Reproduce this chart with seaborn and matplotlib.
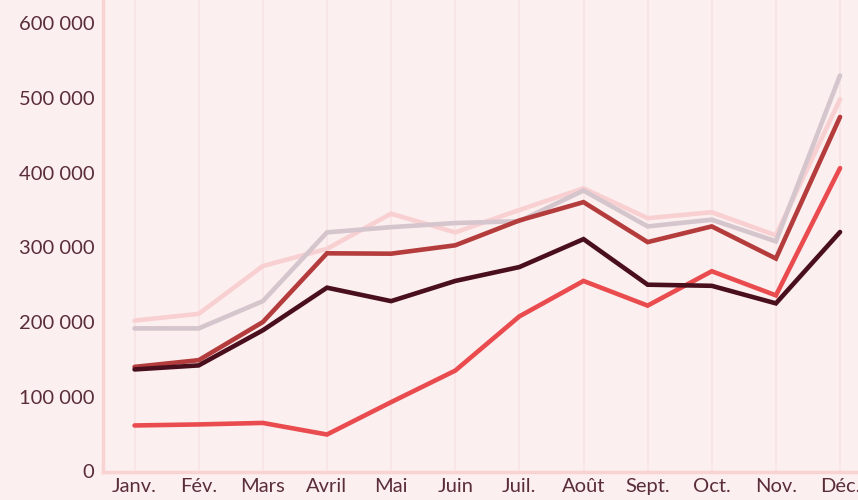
import matplotlib
matplotlib.use("Agg")
import matplotlib.pyplot as plt
import seaborn as sns
import pandas as pd
from matplotlib.ticker import FuncFormatter

months = ["Janv.", "Fév.", "Mars", "Avril", "Mai", "Juin", "Juil.", "Août", "Sept.", "Oct.", "Nov.", "Déc."]

serie_rose = [202000, 211000, 275000, 298000, 345000, 320000, 350000, 379000, 339000, 347000, 316000, 498000]
serie_grise = [191500, 191500, 228000, 320000, 327000, 332500, 335000, 376000, 328000, 337000, 308000, 530000]
serie_brique = [140000, 149000, 200000, 292000, 291500, 302700, 336000, 360500, 307000, 328000, 285000, 474500]
serie_corail = [61600, 63000, 65000, 49500, 92800, 135000, 207600, 255000, 222000, 268000, 235700, 406000]
serie_bordeaux = [136600, 142000, 189000, 246000, 228000, 255000, 273600, 311000, 250000, 248500, 225000, 320500]

series = {
    "A": serie_rose,
    "B": serie_grise,
    "C": serie_brique,
    "D": serie_corail,
    "E": serie_bordeaux,
}
palette = {"A": "#f9d0d2", "B": "#d5c5cc", "C": "#b43c3c", "D": "#e94b4e", "E": "#4a0f1c"}

rows = []
for name, vals in series.items():
    for i, v in enumerate(vals):
        rows.append({"x": i, "mois": months[i], "valeur": v, "serie": name})
df = pd.DataFrame(rows)

bg = "#fcefef"
txt = "#5a2d3a"
sns.set_theme(style="white")
plt.rcParams["font.family"] = ["Lato", "DejaVu Sans"]

fig = plt.figure(figsize=(8.58, 5.0), dpi=100, facecolor=bg)
ax = fig.add_axes([102.5 / 858, 28.5 / 500, 1 - 102.5 / 858, 1 - 28.5 / 500])
ax.set_facecolor(bg)

sns.lineplot(data=df, x="x", y="valeur", hue="serie", hue_order=list(series.keys()),
             palette=palette, linewidth=3.3, ax=ax, legend=False, sort=False,
             solid_capstyle="round", solid_joinstyle="miter")

ax.set_xlim(-0.5, 11.28)
ax.set_ylim(0, 631000)
ax.set_xticks(range(len(months)))
ax.set_xticklabels(months)
ax.set_yticks([0, 100000, 200000, 300000, 400000, 500000, 600000])
ax.yaxis.set_major_formatter(FuncFormatter(lambda v, p: "0" if v == 0 else f"{int(v):,}".replace(",", " ")))
ax.set_xlabel("")
ax.set_ylabel("")

ax.grid(axis="x", color="#f8e5e6", linewidth=1.2)
ax.grid(axis="y", visible=False)
ax.set_axisbelow(True)

for s in ["top", "right"]:
    ax.spines[s].set_visible(False)
for s in ["left", "bottom"]:
    ax.spines[s].set_color("#f9d2d4")
    ax.spines[s].set_linewidth(2.5)

ax.tick_params(axis="both", length=0, labelsize=14.5, labelcolor=txt)
ax.tick_params(axis="y", pad=6)
ax.tick_params(axis="x", pad=5)

fig.savefig("out.png", dpi=100, facecolor=bg)
